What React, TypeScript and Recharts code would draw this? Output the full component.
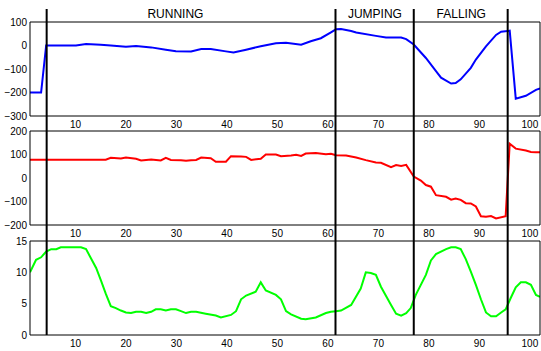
import React from "react";
import { LineChart, Line, XAxis, YAxis, ReferenceLine } from "recharts";

const xDomain: [number, number] = [1, 102];
const xTicks = [10, 20, 30, 40, 50, 60, 70, 80, 90, 100];

// top panel (blue)
const blueX = [1, 3.2, 4.2, 10.1, 12.1, 15, 17, 20, 22, 25, 27.9, 29.9, 32.9, 34.9, 36.8, 39.8, 41.3, 43.8, 46.7, 49.7, 51.7, 54.7, 56.6, 58.6, 60.6, 61.6, 62.6, 64.6, 65.6, 69.5, 71.5, 74.5, 75.5, 77, 79.4, 81.4, 82.4, 84.4, 85.3, 86.3, 88.3, 89.3, 91.3, 93.3, 94.3, 96, 97.2, 99.2, 101.2, 102];
const blueY = [-200, -200, 0, 0, 6, 3, 0, -5, -2, -8, -18, -24, -25, -15, -15, -25, -30, -18, -3, 10, 12, 3, 18, 31, 56, 69, 70, 62, 55, 41, 34, 34, 27, 4, -53, -109, -137, -162, -160, -144, -95, -60, -4, 45, 59, 63, -226, -214, -189, -183];
const blueTicks = [-300, -200, -100, 0, 100];

// middle panel (red)
const redX = [1, 16, 17, 19, 20, 22, 23, 25, 26.9, 27.9, 28.9, 30.9, 31.9, 32.9, 33.9, 34.9, 36.8, 37.8, 39.8, 40.8, 42.8, 43.8, 44.8, 46.7, 47.7, 49.7, 50.7, 52.7, 53.7, 54.7, 55.6, 57.6, 59.6, 60.6, 61.6, 63.6, 65.6, 67.5, 69.5, 70.5, 72.5, 73.5, 74.5, 75.5, 77, 78.4, 79.4, 80.4, 81.4, 83.4, 84.4, 85.3, 86.3, 87.3, 88.3, 89.3, 90.3, 91.3, 92.3, 93.3, 95.2, 96, 97.2, 99.2, 100.2, 101.2, 102];
const redY = [78, 78, 86, 83, 87, 82, 75, 79, 75, 86, 77, 76, 73, 76, 77, 87, 84, 69, 69, 93, 92, 90, 77, 82, 100, 100, 93, 96, 99, 94, 104, 106, 101, 103, 97, 96, 87, 76, 66, 65, 46, 55, 51, 56, 6, -11, -30, -37, -73, -80, -92, -87, -93, -107, -108, -121, -163, -165, -162, -172, -163, 146, 125, 117, 111, 110, 110];
const redTicks = [-200, -100, 0, 100, 200];

// bottom panel (green)
const greenX = [1, 2.2, 3.2, 4.2, 5.2, 6.2, 7.1, 9.1, 11.1, 12.1, 14.1, 15.1, 16, 17, 18, 19, 20, 21, 22, 23, 24, 25, 25.9, 26.9, 27.9, 28.9, 29.9, 30.9, 31.9, 32.9, 33.9, 35.8, 37.8, 38.8, 40.8, 41.8, 42.8, 43.8, 45.7, 46.7, 47.7, 49.7, 50.7, 51.7, 52.7, 54.7, 55.6, 57.6, 59.6, 60.6, 61.6, 62.6, 64.6, 66.5, 67.5, 68.5, 69.5, 70.5, 72.5, 73.5, 74.5, 75.5, 76.4, 77.4, 79.4, 80.4, 81.4, 83.4, 84.4, 85.3, 86.3, 87.3, 88.3, 89.3, 90.3, 91.3, 92.3, 93.3, 94.3, 95.2, 96.2, 97.2, 98.2, 99.2, 100.2, 101.2, 102];
const greenY = [10, 12, 12.4, 13.3, 13.7, 13.7, 14, 14, 14, 13.7, 10.7, 8.6, 6.6, 4.6, 4.3, 3.9, 3.6, 3.5, 3.7, 3.7, 3.5, 3.7, 4.1, 4.1, 3.9, 4.1, 4.1, 3.8, 3.5, 3.7, 3.7, 3.4, 3.1, 2.8, 3.2, 3.8, 5.7, 6.3, 6.9, 8.4, 7.1, 6.4, 5.7, 3.8, 3.3, 2.6, 2.5, 2.8, 3.5, 3.7, 3.8, 3.9, 4.8, 7.4, 10, 9.9, 9.6, 7.7, 4.8, 3.4, 3.1, 3.5, 4.3, 6.4, 9.6, 11.9, 12.9, 13.7, 14, 14, 13.7, 12.1, 10.1, 8, 5.7, 3.6, 3, 3, 3.6, 4.1, 5.9, 7.6, 8.4, 8.4, 8, 6.4, 6.1];
const greenTicks = [0, 5, 10, 15];

// phases
const phaseEdges = [4.3, 61.5, 77, 95.6];
const phaseNames = ["RUNNING", "JUMPING", "FALLING"];
const phaseMid = [29.8, 69.3, 86.4];

const W = 541;
const H = 351;
const font = "'Liberation Sans', Arial, Helvetica, sans-serif";
const fmt = (v: number) => (v < 0 ? `\u2212${-v}` : `${v}`);
const tickStyle = { fontSize: 10, fill: "#000", fontFamily: font };
const black = { stroke: "#000", strokeWidth: 1 };

type PanelProps = {
  xs: number[];
  ys: number[];
  color: string;
  domain: [number, number];
  ticks: number[];
  top: number;
  bottom: number;
};

const Panel = ({ xs, ys, color, domain, ticks, top, bottom }: PanelProps) => {
  const data = xs.map((x, i) => ({ x, y: ys[i] }));
  // labelled axes sit outside the box; mirrored copies carry the inward tick marks
  return (
    <div style={{ position: "absolute", left: 0, top: 0 }}>
      <LineChart width={W} height={H} data={data} margin={{ top, bottom: H - bottom - 10, left: 0, right: 1 }}>
        <XAxis xAxisId="b" dataKey="x" type="number" domain={xDomain} ticks={xTicks} interval={0} height={10}
          tickSize={0} tickMargin={5} tick={tickStyle} tickLine={false} axisLine={black} allowDataOverflow />
        <XAxis xAxisId="bm" dataKey="x" type="number" domain={xDomain} ticks={xTicks} interval={0} mirror height={4}
          tickSize={4} tick={false} tickLine={black} axisLine={false} allowDataOverflow />
        <XAxis xAxisId="t" orientation="top" dataKey="x" type="number" domain={xDomain} ticks={xTicks} interval={0} mirror height={4}
          tickSize={4} tick={false} tickLine={black} axisLine={black} allowDataOverflow />
        <YAxis yAxisId="l" type="number" domain={domain} ticks={ticks} interval={0} width={30}
          tickSize={0} tickMargin={3} tick={tickStyle} tickFormatter={fmt} tickLine={false} axisLine={black} allowDataOverflow />
        <YAxis yAxisId="lm" type="number" domain={domain} ticks={ticks} interval={0} mirror width={4}
          tickSize={4} tick={false} tickLine={black} axisLine={false} allowDataOverflow />
        <YAxis yAxisId="r" orientation="right" type="number" domain={domain} ticks={ticks} interval={0} mirror width={4}
          tickSize={4} tick={false} tickLine={black} axisLine={black} allowDataOverflow />
        <Line xAxisId="b" yAxisId="l" type="linear" dataKey="y" stroke={color} strokeWidth={2} dot={false} isAnimationActive={false} />
      </LineChart>
    </div>
  );
};

export default function App() {
  return (
    <div style={{ position: "fixed", left: 0, top: 0, width: W, height: H, background: "#fff" }}>
      <Panel xs={blueX} ys={blueY} color="#0000ff" domain={[-300, 100]} ticks={blueTicks} top={22} bottom={116} />
      <Panel xs={redX} ys={redY} color="#ff0000" domain={[-200, 200]} ticks={redTicks} top={131} bottom={225} />
      <Panel xs={greenX} ys={greenY} color="#00ff00" domain={[0, 15]} ticks={greenTicks} top={241} bottom={335} />
      <div style={{ position: "absolute", left: 0, top: 0 }}>
        <LineChart width={W} height={H} data={phaseEdges.map((x) => ({ x, y: 0.5 }))} margin={{ top: 9, bottom: H - 335, left: 30, right: 1 }}>
          <XAxis dataKey="x" type="number" domain={xDomain} height={0} tick={false} tickLine={false} axisLine={false} allowDataOverflow />
          <YAxis type="number" domain={[0, 1]} width={0} tick={false} tickLine={false} axisLine={false} allowDataOverflow />
          {phaseEdges.map((x) => (
            <ReferenceLine key={x} x={x} stroke="#000" strokeWidth={2} ifOverflow="visible" />
          ))}
          {phaseNames.map((name, i) => (
            <ReferenceLine key={name} x={phaseMid[i]} stroke="none" ifOverflow="visible"
              label={{ value: name, position: "insideTop", offset: 0, fill: "#000", fontSize: 12, fontFamily: font }} />
          ))}
        </LineChart>
      </div>
    </div>
  );
}
